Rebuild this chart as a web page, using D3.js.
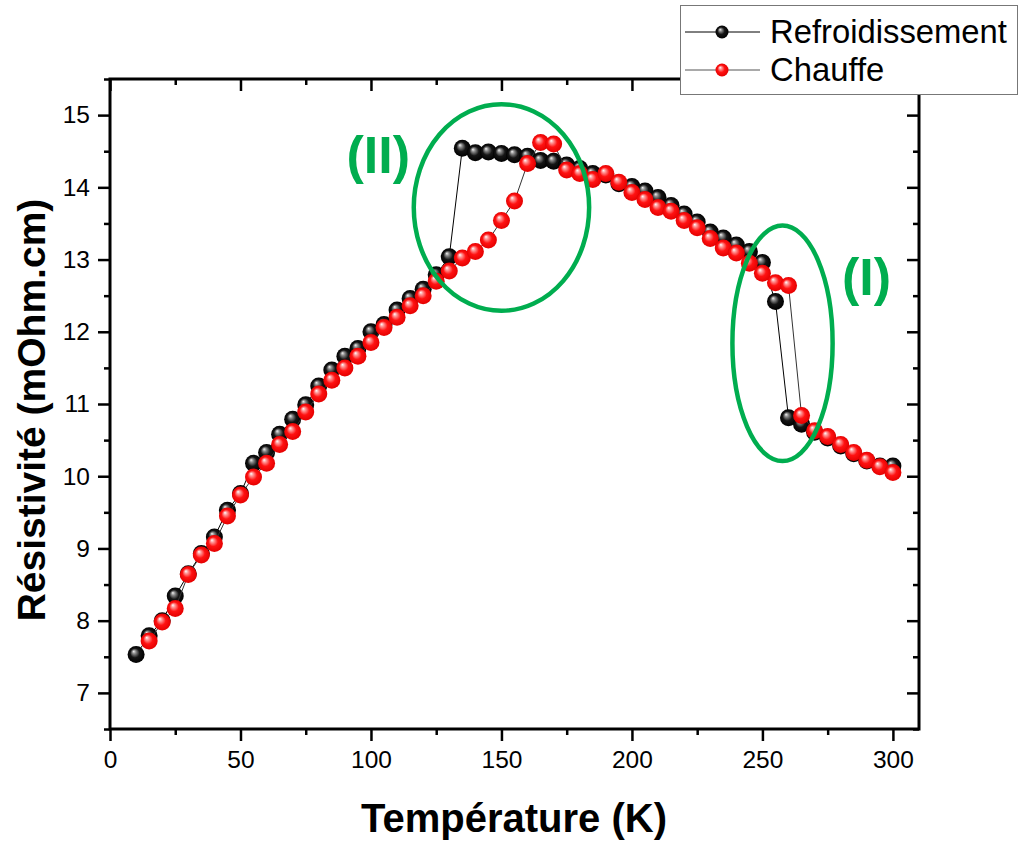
<!DOCTYPE html>
<html><head><meta charset="utf-8">
<script src="https://cdn.jsdelivr.net/npm/d3@7"></script>
<style>
html,body{margin:0;padding:0;background:#fff;}
svg{display:block;font-family:"Liberation Sans",Arial,sans-serif;}
</style></head>
<body>
<svg id="chart" width="1021" height="841"></svg>
<script>
// ---------- data ----------
const tempsCool = [10,15,20,25,30,35,40,45,50,55,60,65,70,75,80,85,90,95,100,105,110,115,120,125,130,135,140,145,150,155,160,165,170,175,180,185,190,195,200,205,210,215,220,225,230,235,240,245,250,255,260,265,270,275,280,285,290,295,300];
const rhoCool = [7.53,7.79,8.0,8.34,8.65,8.93,9.16,9.53,9.76,10.18,10.33,10.58,10.79,10.99,11.25,11.47,11.66,11.77,12.0,12.1,12.3,12.46,12.59,12.79,13.04,14.54,14.48,14.49,14.47,14.45,14.43,14.37,14.36,14.31,14.26,14.19,14.17,14.05,14.01,13.95,13.86,13.75,13.63,13.52,13.38,13.3,13.2,13.11,12.96,12.42,10.81,10.72,10.61,10.53,10.42,10.31,10.21,10.14,10.14];
const tempsHeat = [15,20,25,30,35,40,45,50,55,60,65,70,75,80,85,90,95,100,105,110,115,120,125,130,135,140,145,150,155,160,165,170,175,180,185,190,195,200,205,210,215,220,225,230,235,240,245,250,255,260,265,270,275,280,285,290,295,300];
const rhoHeat = [7.72,7.98,8.17,8.64,8.91,9.07,9.45,9.74,9.99,10.18,10.44,10.62,10.89,11.14,11.33,11.5,11.66,11.85,12.06,12.2,12.36,12.5,12.7,12.84,13.02,13.11,13.27,13.54,13.81,14.33,14.62,14.6,14.24,14.19,14.11,14.19,14.07,13.93,13.83,13.72,13.67,13.54,13.44,13.29,13.16,13.09,12.95,12.81,12.68,12.64,10.84,10.63,10.55,10.44,10.33,10.22,10.13,10.05];
const seriesNames = ["Refroidissement","Chauffe"];
const xTicks = [0,50,100,150,200,250,300];
const xMinorTicks = [25,75,125,175,225,275];
const yTicks = [7,8,9,10,11,12,13,14,15];
const yMinorTicks = [6.5,7.5,8.5,9.5,10.5,11.5,12.5,13.5,14.5,15.5];
// annotation ellipses (data coordinates): centre T, centre rho, half-width (K), half-height
const ellipseLabels = ["(II)","(I)"];
const ellipseCx = [150,257.7];
const ellipseCy = [13.72,11.84];
const ellipseRx = [33.6,19.2];
const ellipseRy = [1.43,1.63];
const labelX = [102.8,289.9];
const labelY = [14.45,12.76];

// ---------- layout ----------
const L=110,R=919,T=79,B=729;
const svg=d3.select("#chart");
const x=d3.scaleLinear().domain([0,310]).range([L,R]);
const y=d3.scaleLinear().domain([6.5,15.5]).range([B,T]);

const defs=svg.append("defs");
function grad(id,stops){
  const g=defs.append("radialGradient").attr("id",id)
    .attr("cx","50%").attr("cy","50%").attr("r","50%").attr("fx","35%").attr("fy","30%");
  stops.forEach(s=>g.append("stop").attr("offset",s[0]).attr("stop-color",s[1]));
}
grad("gBlack",[[0,"#f4f4f4"],[0.22,"#8a8a8a"],[0.55,"#151515"],[1,"#000"]]);
grad("gRed",[[0,"#ffffff"],[0.2,"#ff9c9c"],[0.55,"#ff1212"],[1,"#e40000"]]);

// ---------- axes ----------
function styleAxis(g){
  g.select(".domain").remove();
  g.selectAll(".tick line").attr("stroke","#000").attr("stroke-width",2.5);
  g.selectAll(".tick text").attr("font-size",24.5).attr("fill","#000")
   .attr("font-family","'Liberation Sans',Arial,sans-serif");
}
svg.append("g").attr("transform",`translate(0,${B})`)
  .call(d3.axisBottom(x).tickValues(xTicks).tickSize(12).tickPadding(10).tickFormat(d3.format("d"))).call(styleAxis);
svg.append("g").attr("transform",`translate(0,${B})`)
  .call(d3.axisBottom(x).tickValues(xMinorTicks).tickSize(6).tickFormat("")).call(styleAxis);
svg.append("g").attr("transform",`translate(${L},0)`)
  .call(d3.axisLeft(y).tickValues(yTicks).tickSize(12).tickPadding(8).tickFormat(d3.format("d"))).call(styleAxis);
svg.append("g").attr("transform",`translate(${L},0)`)
  .call(d3.axisLeft(y).tickValues(yMinorTicks).tickSize(6).tickFormat("")).call(styleAxis);
// opposite axes, ticks inward
svg.append("g").attr("transform",`translate(${R},0)`)
  .call(d3.axisLeft(y).tickValues(yTicks).tickSize(12).tickFormat("")).call(styleAxis);
svg.append("g").attr("transform",`translate(${R},0)`)
  .call(d3.axisLeft(y).tickValues(yMinorTicks).tickSize(6).tickFormat("")).call(styleAxis);
svg.append("g").attr("transform",`translate(0,${T})`)
  .call(d3.axisBottom(x).tickValues(xTicks).tickSize(12).tickFormat("")).call(styleAxis);
svg.append("g").attr("transform",`translate(0,${T})`)
  .call(d3.axisBottom(x).tickValues(xMinorTicks).tickSize(6).tickFormat("")).call(styleAxis);

svg.append("rect").attr("x",L).attr("y",T).attr("width",R-L).attr("height",B-T)
  .attr("fill","none").attr("stroke","#000").attr("stroke-width",3);

// ---------- axis titles ----------
svg.append("text").attr("x",514).attr("y",832).attr("text-anchor","middle")
  .attr("font-size",40).attr("font-weight","bold").text("Température (K)");
svg.append("text").attr("transform",`translate(45,${(T+B)/2+6}) rotate(-90)`).attr("text-anchor","middle")
  .attr("font-size",39).attr("font-weight","bold").text("Résistivité (mOhm.cm)");

// ---------- series ----------
const cool=tempsCool.map((t,i)=>({t,v:rhoCool[i]}));
const heat=tempsHeat.map((t,i)=>({t,v:rhoHeat[i]}));
const line=d3.line().x(d=>x(d.t)).y(d=>y(d.v));
const r=8.5;
[[cool,"#000","gBlack"],[heat,"#333","gRed"]].forEach(([data,lc,g])=>{
  svg.append("path").datum(data).attr("d",line).attr("fill","none").attr("stroke",lc).attr("stroke-width",1);
  svg.append("g").selectAll("circle").data(data).join("circle")
    .attr("cx",d=>x(d.t)).attr("cy",d=>y(d.v)).attr("r",r).attr("fill",`url(#${g})`);
});

// ---------- annotations ----------
const green="#00ad4f";
ellipseLabels.forEach((lab,i)=>{
  svg.append("ellipse").attr("cx",x(ellipseCx[i])).attr("cy",y(ellipseCy[i]))
    .attr("rx",x(ellipseRx[i])-x(0)).attr("ry",y(0)-y(ellipseRy[i]))
    .attr("fill","none").attr("stroke",green).attr("stroke-width",4.5);
  svg.append("text").attr("x",x(labelX[i])).attr("y",y(labelY[i])+18).attr("text-anchor","middle")
    .attr("font-size",52).attr("font-weight","bold").attr("fill",green).text(lab);
});

// ---------- legend ----------
const lg=svg.append("g");
lg.append("rect").attr("x",680.5).attr("y",5.5).attr("width",337).attr("height",89)
  .attr("fill","#fff").attr("stroke","#777").attr("stroke-width",1);
[["gBlack","#000"],["gRed","#555"]].forEach(([g,lc],i)=>{
  const yy=32+i*38;
  lg.append("line").attr("x1",685).attr("x2",760).attr("y1",yy).attr("y2",yy).attr("stroke",lc).attr("stroke-width",1);
  lg.append("circle").attr("cx",722).attr("cy",yy).attr("r",6.5).attr("fill",`url(#${g})`);
  lg.append("text").attr("x",770).attr("y",yy+11).attr("font-size",32.8).text(seriesNames[i]);
});
</script>
</body></html>
